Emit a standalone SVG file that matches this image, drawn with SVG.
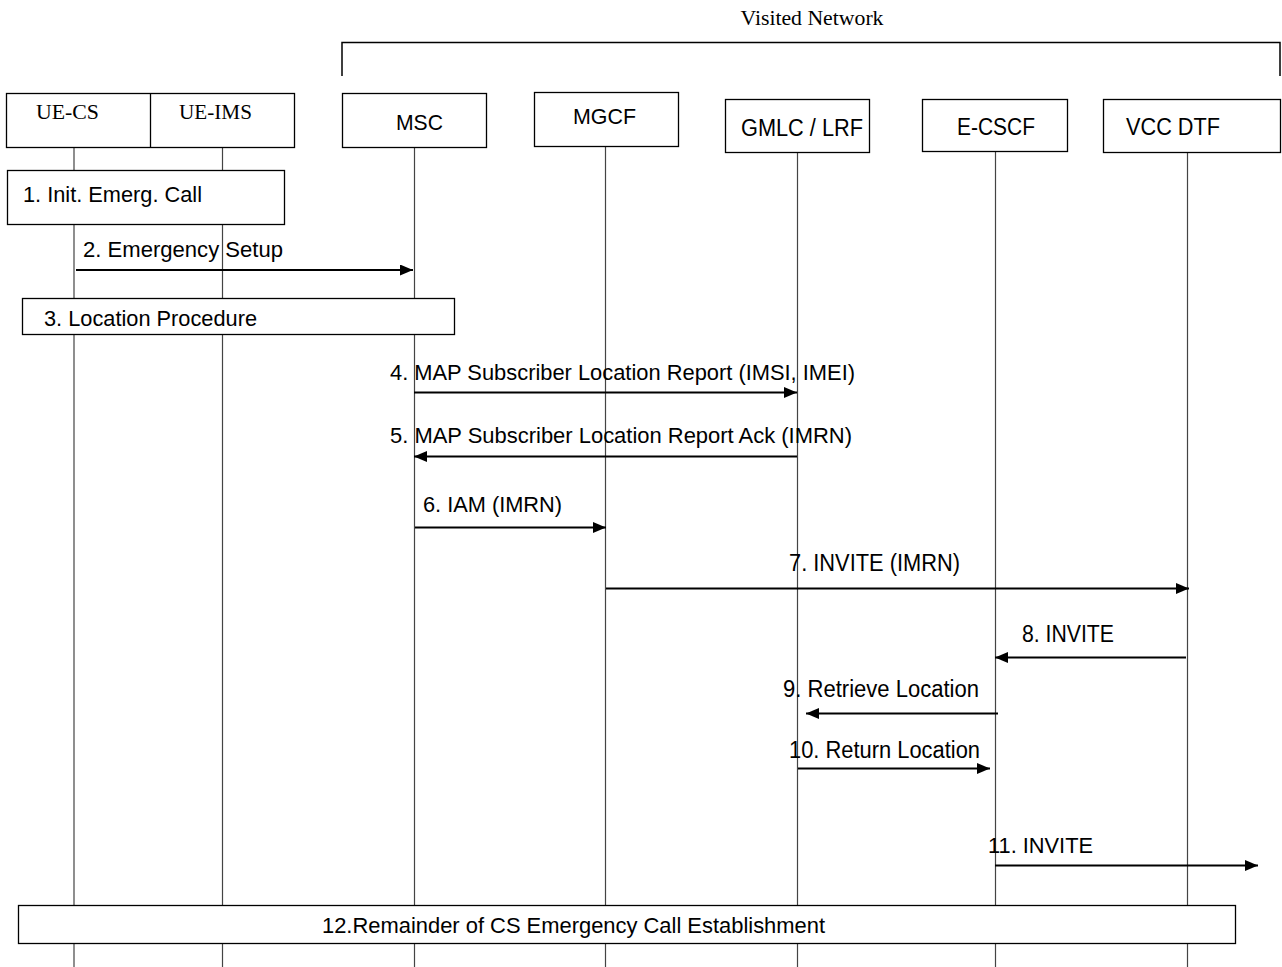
<svg xmlns="http://www.w3.org/2000/svg" width="1282" height="967" viewBox="0 0 1282 967">
  <style>
    .box { fill: #fff; stroke: #000; stroke-width: 1.3; }
    .life { stroke: #444; stroke-width: 1.2; fill: none; }
    .msg { stroke: #000; stroke-width: 2; fill: none; marker-end: url(#head); }
    .serif { font-family: "Liberation Serif", "Times New Roman", serif; font-size: 21px; fill: #000; }
    .sans { font-family: "Liberation Sans", Arial, sans-serif; font-size: 22px; fill: #000; }
    .tall { font-family: "Liberation Sans", Arial, sans-serif; font-size: 23px; fill: #000; }
  </style>
  <defs>
    <marker id="head" markerUnits="userSpaceOnUse" markerWidth="13" markerHeight="11" refX="13" refY="5.5" orient="auto">
      <path d="M0,0 L13,5.5 L0,11 z" fill="#000"/>
    </marker>
  </defs>
  <rect width="1282" height="967" fill="#fff"/>

  <!-- Visited network bracket -->
  <g id="visited-network">
    <text class="serif" x="812" y="25" text-anchor="middle" textLength="143" lengthAdjust="spacingAndGlyphs">Visited Network</text>
    <path d="M342,76 V42.5 H1280 V76" fill="none" stroke="#000" stroke-width="1.5"/>
  </g>

  <!-- Lifelines -->
  <g id="lifelines">
    <line class="life" x1="74" y1="148" x2="74" y2="967"/>
    <line class="life" x1="222.5" y1="148" x2="222.5" y2="967"/>
    <line class="life" x1="414.5" y1="148" x2="414.5" y2="967"/>
    <line class="life" x1="605.5" y1="147" x2="605.5" y2="967"/>
    <line class="life" x1="797.5" y1="153" x2="797.5" y2="967" stroke="#777"/>
    <line class="life" x1="995.5" y1="152" x2="995.5" y2="967"/>
    <line class="life" x1="1187.5" y1="153" x2="1187.5" y2="967"/>
  </g>

  <!-- Entities -->
  <g id="ue">
    <rect class="box" x="6.5" y="93.5" width="288" height="54"/>
    <line x1="150.5" y1="93.5" x2="150.5" y2="147.5" stroke="#000" stroke-width="1.3"/>
    <text class="serif" x="36" y="119" textLength="63" lengthAdjust="spacingAndGlyphs">UE-CS</text>
    <text class="serif" x="179" y="119" textLength="73" lengthAdjust="spacingAndGlyphs">UE-IMS</text>
  </g>
  <g id="msc">
    <rect class="box" x="342.5" y="93.5" width="144" height="54"/>
    <text class="sans" x="396" y="130" textLength="47" lengthAdjust="spacingAndGlyphs">MSC</text>
  </g>
  <g id="mgcf">
    <rect class="box" x="534.5" y="92.5" width="144" height="54"/>
    <text class="sans" x="573" y="124" textLength="63" lengthAdjust="spacingAndGlyphs">MGCF</text>
  </g>
  <g id="gmlc-lrf">
    <rect class="box" x="725.5" y="99.5" width="144" height="53"/>
    <text class="tall" x="741" y="136" textLength="122" lengthAdjust="spacingAndGlyphs">GMLC / LRF</text>
  </g>
  <g id="e-cscf">
    <rect class="box" x="922.5" y="99.5" width="145" height="52"/>
    <text class="tall" x="957" y="135" textLength="78" lengthAdjust="spacingAndGlyphs">E-CSCF</text>
  </g>
  <g id="vcc-dtf">
    <rect class="box" x="1103.5" y="99.5" width="177" height="53"/>
    <text class="tall" x="1126" y="135" textLength="94" lengthAdjust="spacingAndGlyphs">VCC DTF</text>
  </g>

  <!-- Procedure boxes -->
  <g id="step1">
    <rect class="box" x="7.5" y="170.5" width="277" height="54"/>
    <text class="sans" x="23" y="202" textLength="179" lengthAdjust="spacingAndGlyphs">1. Init. Emerg. Call</text>
  </g>
  <g id="step3">
    <rect class="box" x="22.5" y="298.5" width="432" height="36"/>
    <text class="sans" x="44" y="326" textLength="213" lengthAdjust="spacingAndGlyphs">3. Location Procedure</text>
  </g>
  <g id="step12">
    <rect class="box" x="18.5" y="905.5" width="1217" height="38"/>
    <text class="sans" x="322" y="933" textLength="503" lengthAdjust="spacingAndGlyphs">12.Remainder of CS Emergency Call Establishment</text>
  </g>

  <!-- Messages -->
  <g id="messages">
    <line class="msg" x1="76" y1="270" x2="413" y2="270"/>
    <line class="msg" x1="414" y1="392.5" x2="797" y2="392.5"/>
    <line class="msg" x1="797" y1="456.5" x2="414" y2="456.5"/>
    <line class="msg" x1="415" y1="527.5" x2="606" y2="527.5"/>
    <line class="msg" x1="606" y1="588.5" x2="1189" y2="588.5"/>
    <line class="msg" x1="1186" y1="657.5" x2="995" y2="657.5"/>
    <line class="msg" x1="998" y1="713.5" x2="806" y2="713.5"/>
    <line class="msg" x1="798" y1="768.5" x2="990" y2="768.5"/>
    <line class="msg" x1="995" y1="865.5" x2="1258" y2="865.5"/>
  </g>

  <!-- Message labels -->
  <g id="labels">
    <text class="sans" x="83" y="257" textLength="200" lengthAdjust="spacingAndGlyphs">2. Emergency Setup</text>
    <text class="sans" x="390" y="380" textLength="465" lengthAdjust="spacingAndGlyphs">4. MAP Subscriber Location Report (IMSI, IMEI)</text>
    <text class="sans" x="390" y="443" textLength="462" lengthAdjust="spacingAndGlyphs">5. MAP Subscriber Location Report Ack (IMRN)</text>
    <text class="sans" x="423" y="512" textLength="139" lengthAdjust="spacingAndGlyphs">6. IAM (IMRN)</text>
    <text class="tall" x="789" y="571" textLength="171" lengthAdjust="spacingAndGlyphs">7. INVITE (IMRN)</text>
    <text class="tall" x="1022" y="642" textLength="92" lengthAdjust="spacingAndGlyphs">8. INVITE</text>
    <text class="tall" x="783" y="697" textLength="196" lengthAdjust="spacingAndGlyphs">9. Retrieve Location</text>
    <text class="tall" x="789" y="758" textLength="191" lengthAdjust="spacingAndGlyphs">10. Return Location</text>
    <text class="sans" x="988" y="853" textLength="105" lengthAdjust="spacingAndGlyphs">11. INVITE</text>
  </g>
</svg>
